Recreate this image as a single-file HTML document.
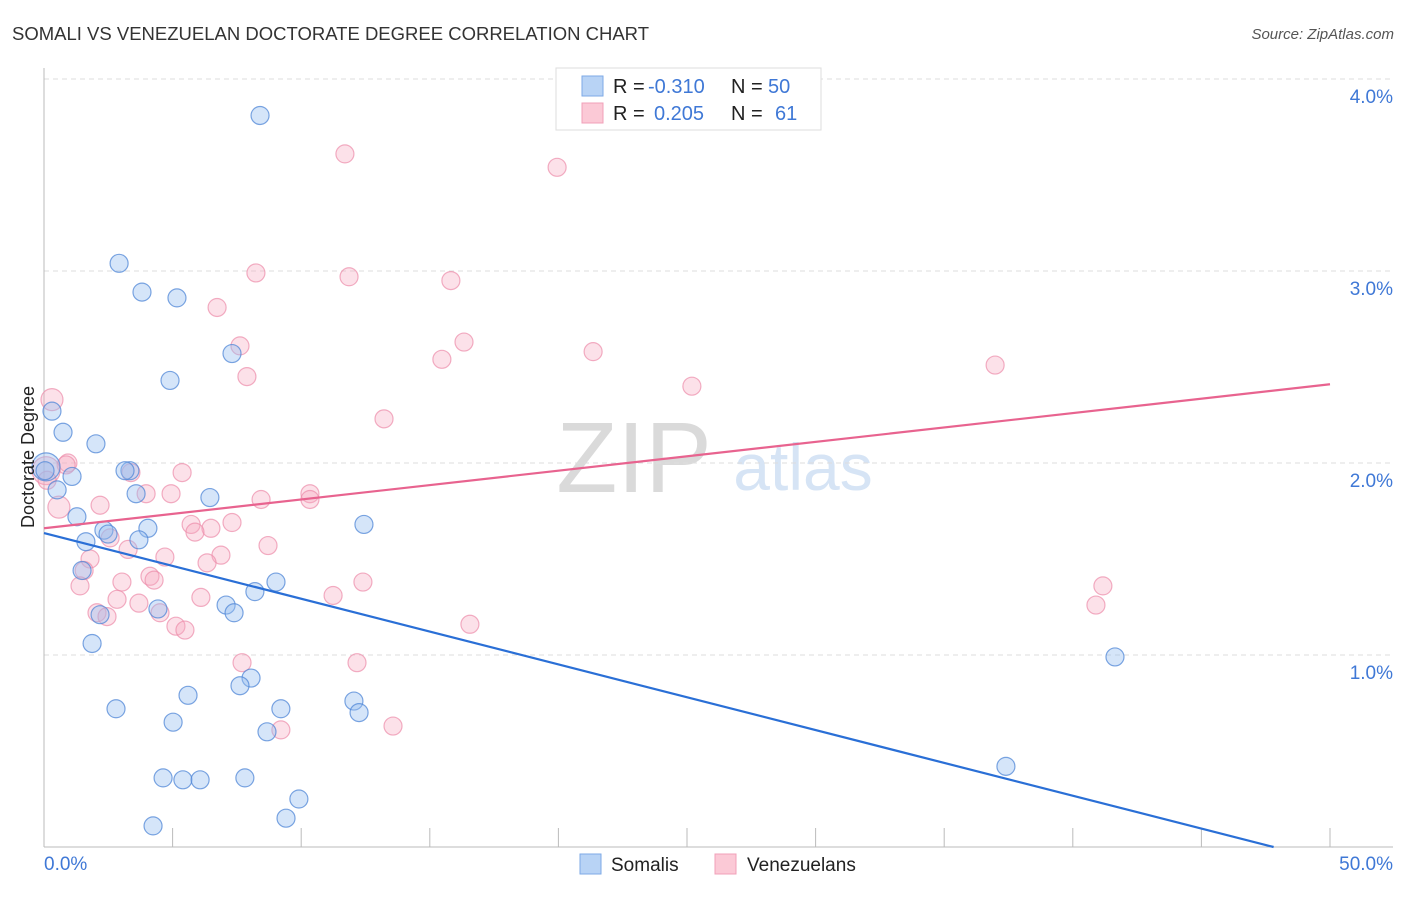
<!DOCTYPE html>
<html><head><meta charset="utf-8"><style>
body{margin:0;background:#fff;font-family:"Liberation Sans",sans-serif;}
svg text{font-family:"Liberation Sans",sans-serif;}
</style></head><body>
<svg id="chart" width="1406" height="892">
<text x="12" y="40" font-size="18.5" fill="#333">SOMALI VS VENEZUELAN DOCTORATE DEGREE CORRELATION CHART</text>
<text x="1394" y="39" font-size="15" fill="#555" text-anchor="end" font-style="italic">Source: ZipAtlas.com</text>
<text x="634" y="492" font-size="100" fill="#dadada" font-family="Liberation Serif" text-anchor="middle">ZIP</text>
<text x="803" y="490" font-size="66" fill="#d6e4f5" text-anchor="middle">atlas</text>
<g id="grid"></g><g id="axes"></g><g id="pts"></g><g id="lines"></g>
<text transform="translate(34,457) rotate(-90)" font-size="18" fill="#222" text-anchor="middle">Doctorate Degree</text>
<g>
<rect x="556" y="68" width="265" height="62" fill="#fff" stroke="#ddd"/>
<rect x="582" y="76" width="21" height="20" fill="#b8d3f5" stroke="#7ea9e6"/>
<rect x="582" y="103" width="21" height="20" fill="#fbc9d6" stroke="#f0a0b8"/>
<text x="613" y="93" font-size="20" fill="#222">R =</text><text x="648" y="93" font-size="20" fill="#3f78d6">-0.310</text>
<text x="731" y="93" font-size="20" fill="#222">N =</text><text x="768" y="93" font-size="20" fill="#3f78d6">50</text>
<text x="613" y="120" font-size="20" fill="#222">R =</text><text x="654" y="120" font-size="20" fill="#3f78d6">0.205</text>
<text x="731" y="120" font-size="20" fill="#222">N =</text><text x="775" y="120" font-size="20" fill="#3f78d6">61</text>
</g>
<g>
<rect x="580" y="854" width="21" height="20" fill="#b8d3f5" stroke="#7ea9e6"/>
<text x="611" y="871" font-size="19" fill="#222">Somalis</text>
<rect x="715" y="854" width="21" height="20" fill="#fbc9d6" stroke="#f0a0b8"/>
<text x="747" y="871" font-size="19" fill="#222">Venezuelans</text>
</g>
</svg>
<script>
const blueX=[8.40,2.92,3.81,5.17,7.31,4.90,0.31,0.74,2.02,3.34,3.15,1.09,0.51,3.58,6.45,12.44,4.04,1.28,2.33,2.49,1.63,3.69,1.48,2.18,4.43,8.20,7.08,7.39,9.02,1.87,41.64,8.05,7.62,5.60,2.80,5.02,12.05,12.25,9.21,8.67,4.63,5.40,6.07,7.81,37.40,9.91,9.41,4.24,0.08,0.04];
const blueY=[3.81,3.04,2.89,2.86,2.57,2.43,2.27,2.16,2.10,1.96,1.96,1.93,1.86,1.84,1.82,1.68,1.66,1.72,1.65,1.63,1.59,1.60,1.44,1.21,1.24,1.33,1.26,1.22,1.38,1.06,0.99,0.88,0.84,0.79,0.72,0.65,0.76,0.70,0.72,0.60,0.36,0.35,0.35,0.36,0.42,0.25,0.15,0.11,1.98,1.96];
const pinkX=[11.70,19.95,8.24,11.86,15.82,6.73,16.33,7.62,15.47,21.35,7.89,36.98,25.19,13.22,0.31,0.93,0.86,5.37,3.38,3.97,4.94,8.44,10.34,10.34,0.58,2.18,7.31,5.72,6.49,5.87,2.57,3.27,8.71,6.88,4.70,6.34,1.79,1.56,3.03,4.12,4.28,1.40,12.40,41.17,2.84,3.69,6.10,11.24,40.90,2.06,2.45,4.51,5.13,5.48,16.56,7.70,12.17,13.57,9.21,0.08,0.12];
const pinkY=[3.61,3.54,2.99,2.97,2.95,2.81,2.63,2.61,2.54,2.58,2.45,2.51,2.40,2.23,2.33,2.00,1.99,1.95,1.95,1.84,1.84,1.81,1.84,1.81,1.77,1.78,1.69,1.68,1.66,1.64,1.61,1.55,1.57,1.52,1.51,1.48,1.50,1.44,1.38,1.41,1.39,1.36,1.38,1.36,1.29,1.27,1.30,1.31,1.26,1.22,1.20,1.22,1.15,1.13,1.16,0.96,0.96,0.63,0.61,1.96,1.91];
const yTicks=[1,2,3,4];
const yTickLabels=["1.0%","2.0%","3.0%","4.0%"];
const xTickLabels=["0.0%","50.0%"];
const blueTrend=[1.635,-0.0342];
const pinkTrend=[1.66,0.015];
const X0=44,X1=1330,Yb=847;
const sx=v=>X0+v*(X1-X0)/50, sy=v=>Yb-v*192;
const NS="http://www.w3.org/2000/svg";
function mk(p,t,a){const e=document.createElementNS(NS,t);for(const k in a)e.setAttribute(k,a[k]);p.appendChild(e);return e;}
const grid=document.getElementById('grid'),axes=document.getElementById('axes'),pts=document.getElementById('pts'),lines=document.getElementById('lines');
yTicks.forEach((t,i)=>{
 const g=mk(grid,'line',{x1:X0,x2:1393,y1:sy(t),y2:sy(t),stroke:'#ddd','stroke-dasharray':'5,4'});
 
 
 const l=mk(axes,'text',{x:1393,y:sy(t)+24,'font-size':19,fill:'#3f78d6','text-anchor':'end'});
 l.textContent=yTickLabels[i];
 
 
});
const ya=mk(axes,'line',{x1:X0,x2:X0,y1:68,y2:Yb,stroke:'#bbb'});


const xa=mk(axes,'line',{x1:X0,x2:1393,y1:Yb,y2:Yb,stroke:'#bbb'});


for(let v=5;v<=50;v+=5){const t=mk(axes,'line',{x1:sx(v),x2:sx(v),y1:Yb,y2:828,stroke:'#bbb'});
 
 }
[[0,'start',X0],[50,'end',1393]].forEach((o,i)=>{const l=mk(axes,'text',{x:o[2],y:870,'font-size':19,fill:'#3f78d6','text-anchor':o[1]});l.textContent=xTickLabels[i];
 
 });
function dots(xs,ys,fill,stroke,name,bigIdx,medIdx){xs.forEach((x,i)=>{
 const r=i===bigIdx?14:(medIdx.includes(i)?11:9);
 const c=mk(pts,'circle',{cx:sx(x),cy:sy(ys[i]),r:r,fill:fill,stroke:stroke,'stroke-width':1.2});
 
 });}
dots(pinkX,pinkY,'rgba(246,170,192,0.35)','rgba(236,140,170,0.7)','venezuelan-point',59,[14,24]);
dots(blueX,blueY,'rgba(150,190,240,0.4)','rgba(80,135,215,0.75)','somali-point',48,[]);
const bx2=-blueTrend[0]/blueTrend[1];
const bl=mk(lines,'line',{x1:sx(0),y1:sy(blueTrend[0]),x2:sx(bx2),y2:sy(0),stroke:'#2a6fd6','stroke-width':2.2});


const pl=mk(lines,'line',{x1:sx(0),y1:sy(pinkTrend[0]),x2:sx(50),y2:sy(pinkTrend[0]+50*pinkTrend[1]),stroke:'#e8638f','stroke-width':2.2});


</script>
</body></html>
